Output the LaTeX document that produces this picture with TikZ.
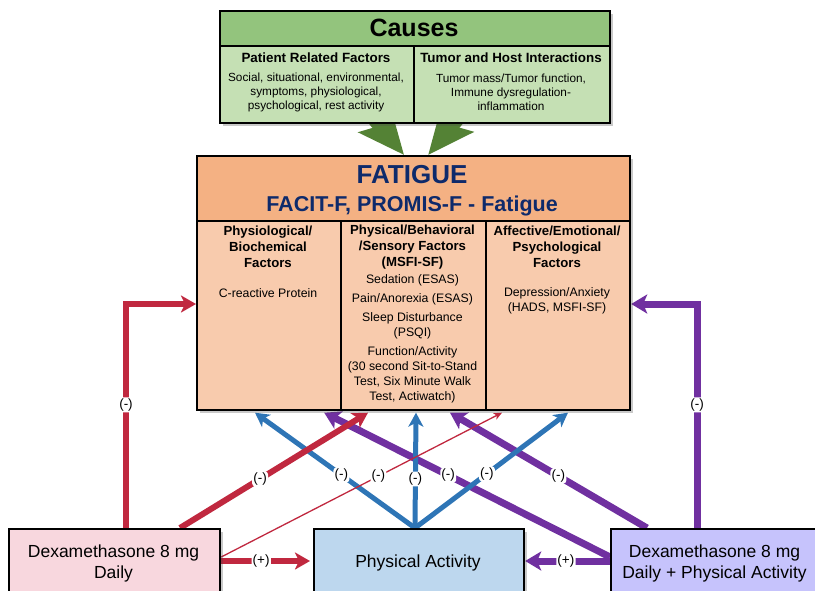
\documentclass[tikz,border=0pt]{standalone}
\usepackage{fontspec}
\setmainfont{Liberation Sans}
\usetikzlibrary{arrows.meta,calc,shadows}
\definecolor{cgreenT}{HTML}{93C47D}
\definecolor{cgreenS}{HTML}{C5E0B4}
\definecolor{cgarrow}{HTML}{548235}
\definecolor{coranT}{HTML}{F4B183}
\definecolor{coranS}{HTML}{F8CBAD}
\definecolor{cpink}{HTML}{F8D7DE}
\definecolor{cblueB}{HTML}{BDD7EE}
\definecolor{clav}{HTML}{C6C3FC}
\definecolor{cred}{HTML}{C0283F}
\definecolor{cblue}{HTML}{2E75B6}
\definecolor{cpurp}{HTML}{7030A0}
\definecolor{cnavy}{HTML}{0E2A6B}
\pgfdeclarelayer{bg}
\pgfsetlayers{bg,main}
\begin{document}
\begin{tikzpicture}[x=1pt,y=-1pt,
  cell/.style={draw=black,line width=2.2pt,anchor=north west,inner sep=0pt},
  shadowed/.style={drop shadow={shadow xshift=3pt,shadow yshift=-3pt,opacity=0.3,fill=black!70}},
  hd/.style={font=\bfseries\fontsize{13.2}{16}\selectfont,align=center,inner sep=0pt},
  sub/.style={font=\bfseries\fontsize{13.4}{15}\selectfont,align=center,inner sep=0pt},
  bd/.style={font=\fontsize{11.8}{14}\selectfont,align=center,inner sep=0pt},
  ft/.style={font=\fontsize{12.3}{15}\selectfont,align=center,inner sep=0pt},
  bx/.style={font=\fontsize{17.5}{21}\selectfont,align=center,inner sep=0pt},
  lbl/.style={fill=white,font=\fontsize{13.5}{15}\selectfont,inner sep=1.2pt,rounded corners=3pt},
  redln/.style={draw=cred,line width=6pt,-{Stealth[length=15pt,width=17pt,inset=4pt]}},
  redthin/.style={draw=cred,line width=1.3pt,-{Stealth[length=8pt,width=7pt,inset=2pt]}},
  blueln/.style={draw=cblue,line width=5pt,-{Stealth[length=14pt,width=15pt,inset=4pt]}},
  purpln/.style={draw=cpurp,line width=7pt,-{Stealth[length=16pt,width=19pt,inset=4pt]}},
  greenarr/.style={draw=cgarrow,line width=14pt,-{Stealth[length=46pt,width=40pt,inset=8pt]}}
]
\useasboundingbox (0,0) rectangle (815,590);
\clip (0,0) rectangle (815,590);

% ---------- Causes ----------
\node[cell,shadowed,fill=cgreenS,minimum width=390pt,minimum height=112pt] (causes) at (219,10) {};
\node[cell,fill=cgreenT,minimum width=390pt,minimum height=35pt] (ctitle) at (219,10) {};
\node[cell,fill=cgreenS,minimum width=194pt,minimum height=77pt] (cleft) at (219,45) {};
\node[cell,fill=cgreenS,minimum width=196pt,minimum height=77pt] (cright) at (413,45) {};
\node[font=\bfseries\fontsize{25}{30}\selectfont,inner sep=0pt] (causesT) at (414,28) {Causes};
\node[sub] (plT) at (316,58) {Patient Related Factors};
\node[sub] (thT) at (511,58) {Tumor and Host Interactions};
\node[bd] (plB) at (316,92) {Social, situational, environmental,\\symptoms, physiological,\\psychological, rest activity};
\node[bd] (thB) at (511,92) {Tumor mass/Tumor function,\\Immune dysregulation-\\inflammation};

% ---------- Fatigue ----------
\node[cell,shadowed,fill=coranS,minimum width=433pt,minimum height=254pt] (fatigue) at (196,155) {};
\node[cell,fill=coranT,minimum width=433pt,minimum height=65pt] (fhead) at (196,155) {};
\node[cell,fill=coranS,minimum width=144pt,minimum height=189pt] (fc1) at (196,220) {};
\node[cell,fill=coranS,minimum width=145pt,minimum height=189pt] (fc2) at (340,220) {};
\node[cell,fill=coranS,minimum width=144pt,minimum height=189pt] (fc3) at (485,220) {};
\node[font=\bfseries\fontsize{26}{30}\selectfont,text=cnavy,inner sep=0pt] (fT) at (412,175) {FATIGUE};
\node[font=\bfseries\fontsize{21.5}{25}\selectfont,text=cnavy,inner sep=0pt] (fS) at (412,205.5) {FACIT-F, PROMIS-F - Fatigue};
\node[hd] (h1) at (268,247) {Physiological/\\Biochemical\\Factors};
\node[hd] (h2) at (412.5,247) {Physical/Behavioral\\/Sensory Factors\\(MSFI-SF)};
\node[hd] (h3) at (557,247) {Affective/Emotional/\\Psychological\\Factors};
\node[ft] (t1) at (268,293) {C-reactive Protein};
\node[ft] (t2) at (412.5,280) {Sedation (ESAS)};
\node[ft] (t3) at (412.5,299) {Pain/Anorexia (ESAS)};
\node[ft] (t4) at (412.5,326) {Sleep Disturbance\\(PSQI)};
\node[ft] (t5) at (412.5,375) {Function/Activity\\(30 second Sit-to-Stand\\Test, Six Minute Walk\\Test, Actiwatch)};
\node[ft] (t6) at (557,301) {Depression/Anxiety\\(HADS, MSFI-SF)};

% ---------- Bottom boxes ----------
\node[cell,shadowed,fill=cpink,minimum width=211pt,minimum height=80pt] (dex) at (8,528) {};
\node[cell,shadowed,fill=cblueB,minimum width=210pt,minimum height=80pt] (pa) at (313,528) {};
\node[cell,shadowed,fill=clav,minimum width=212pt,minimum height=80pt] (dexpa) at (610,528) {};
\node[bx] (dexT) at (113.5,563) {Dexamethasone 8 mg\\Daily};
\node[bx] (paT) at (418,562.5) {Physical Activity};
\node[bx] (dexpaT) at (714.5,563) {Dexamethasone 8 mg\\Daily + Physical Activity};

% ---------- Connectors ----------
\begin{pgfonlayer}{bg}
\draw[greenarr] ($(causes.south)+(-70,-40)$) -- ($(fatigue.north)+(-9.5,0)$);
\draw[greenarr] ($(causes.south)+(71,-40)$) -- ($(fatigue.north)+(14.5,0)$);

\draw[purpln] ($(dexpa.north west)+(87,0)$) |- ($(fc3.north east)+(0,84)$) coordinate[pos=0.275] (lp1);
\draw[purpln] ($(dexpa.north west)+(37,0)$) -- ($(fc3.south west)+(-35,1.5)$) coordinate[pos=0.45] (lp2);
\draw[purpln] ($(dexpa.north west)+(0,29)$) -- ($(fc1.south east)+(-18,1.5)$) coordinate[pos=0.566] (lp3);
\draw[purpln] ($(dexpa.north west)+(0,33)$) -- ($(pa.north east)+(0,33)$) coordinate[pos=0.52] (lp4);

\draw[blueln] ($(pa.north west)+(102,0)$) -- ($(fc1.south west)+(59,1.5)$) coordinate[pos=0.46] (lb1);
\draw[blueln] ($(pa.north west)+(102,0)$) -- ($(fc2.south west)+(76,1.5)$) coordinate[pos=0.425] (lb2);
\draw[blueln] ($(pa.north west)+(102,0)$) -- ($(fc3.south west)+(83,1.5)$) coordinate[pos=0.47] (lb3);

\draw[redln] ($(dex.north west)+(118,0)$) |- ($(fc1.north west)+(0,84)$) coordinate[pos=0.275] (lr1);
\draw[redln] ($(dex.north west)+(172,0)$) -- ($(fc2.south west)+(28,1.5)$) coordinate[pos=0.426] (lr2);
\draw[redthin] ($(dex.north east)+(0,29)$) -- ($(fc3.south west)+(17,1.5)$) coordinate[pos=0.56] (lr3);
\draw[redln] ($(dex.north east)+(0,33)$) -- ($(pa.north west)+(-3,33)$) coordinate[pos=0.45] (lr4);
\end{pgfonlayer}

% ---------- Labels ----------
\node[lbl] (Llp1) at (lp1) {(-)};
\node[lbl] (Llp2) at (lp2) {(-)};
\node[lbl] (Llp3) at (lp3) {(-)};
\node[lbl] (Llp4) at (lp4) {(+)};
\node[lbl] (Llb1) at (lb1) {(-)};
\node[lbl] (Llb2) at (lb2) {(-)};
\node[lbl] (Llb3) at (lb3) {(-)};
\node[lbl] (Llr1) at (lr1) {(-)};
\node[lbl] (Llr2) at (lr2) {(-)};
\node[lbl] (Llr3) at (lr3) {(-)};
\node[lbl] (Llr4) at (lr4) {(+)};
\end{tikzpicture}
\end{document}
